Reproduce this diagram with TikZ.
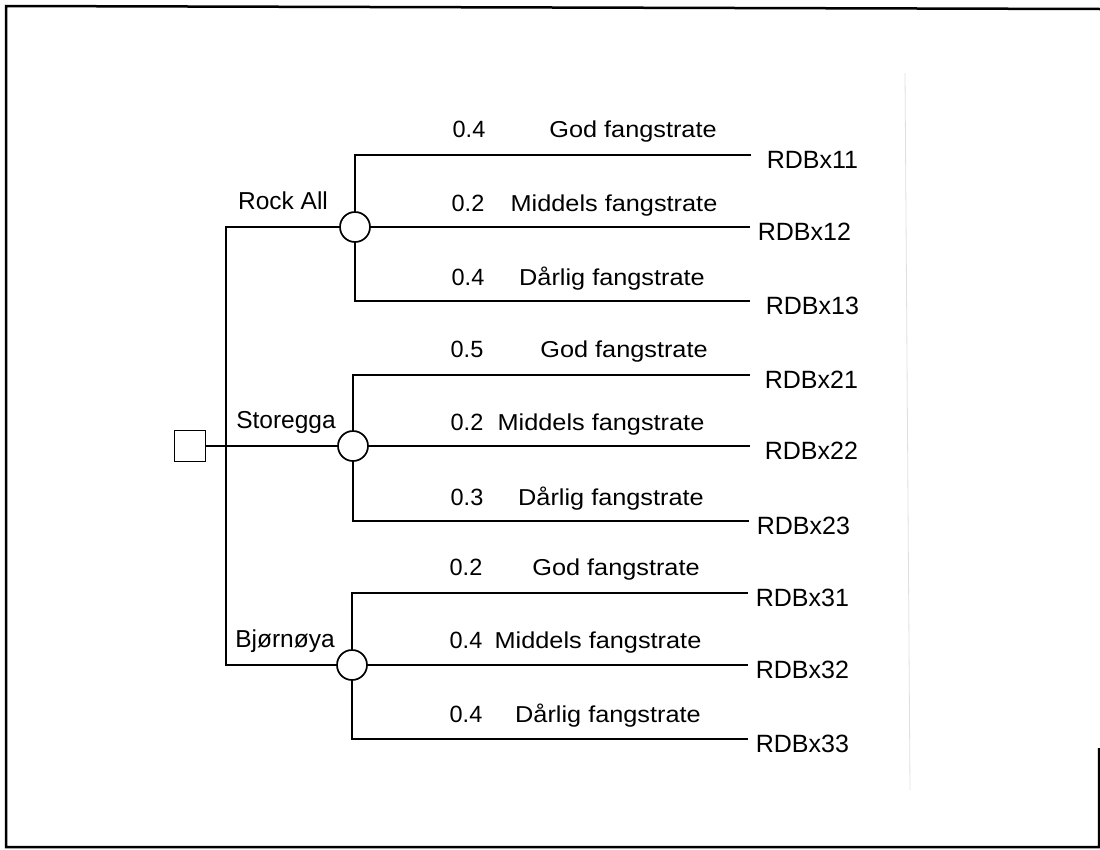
\documentclass[tikz,border=0pt]{standalone}
\usepackage{fontspec}
\setmainfont{Liberation Sans}
\newfontfamily\widefont{Liberation Sans}[FakeStretch=1.1]

\begin{document}
\begin{tikzpicture}[x=1pt, y=-1pt, line width=1.7pt,
    chance/.style={circle, draw, minimum size=30pt, inner sep=0pt},
    decision/.style={rectangle, draw, minimum size=31pt, inner sep=0pt},
    site/.style={anchor=base, inner sep=0pt, font=\fontsize{24.5}{28}\selectfont},
    prob/.style={anchor=base, inner sep=0pt, font=\fontsize{23.5}{26}\selectfont},
    rate/.style={anchor=base, inner sep=0pt, font=\widefont\fontsize{23}{26}\selectfont},
    leaf/.style={anchor=base west, inner sep=0pt, font=\fontsize{25}{28}\selectfont}]
    \useasboundingbox (0,0) rectangle (1100,849);

    % Frame
    \draw [line width=2.5pt] (1099,748) -- (1099,847) -- (6,847) -- (6,6) -- (1100,9);
    \draw [gray!25, line width=0.8pt] (905,73) -- (910,790);

    % Nodes {dec, ra, st, bj}
    \node [decision] 	(dec) 	at (190,446) 	{};
    \node [chance] 		(ra) 	at (355,227) 	{};
    \node [chance] 		(st) 	at (353,446) 	{};
    \node [chance] 		(bj) 	at (352,665) 	{};
    \coordinate 		(tt) 	at (226,227);
    \coordinate 		(tb) 	at (226,665);

    \node [site] 	(lra) 	at (283,209) 	{Rock All};
    \node [site] 	(lst) 	at (286,428) 	{Storegga};
    \node [site] 	(lbj) 	at (285,647) 	{Bjørnøya};

    % Ends of the branches
    \coordinate (e11) at (751,155);
    \coordinate (e12) at (750,227);
    \coordinate (e13) at (750,301);
    \coordinate (e21) at (750,375);
    \coordinate (e22) at (750,446);
    \coordinate (e23) at (749,521);
    \coordinate (e31) at (748,593);
    \coordinate (e32) at (748,665);
    \coordinate (e33) at (748,739);

    \node [leaf] 	(x11) 	at (766,168) 	{RDBx11};
    \node [leaf] 	(x12) 	at (757,240) 	{RDBx12};
    \node [leaf] 	(x13) 	at (765,314) 	{RDBx13};
    \node [leaf] 	(x21) 	at (764,388) 	{RDBx21};
    \node [leaf] 	(x22) 	at (764,459) 	{RDBx22};
    \node [leaf] 	(x23) 	at (756,534) 	{RDBx23};
    \node [leaf] 	(x31) 	at (755,606) 	{RDBx31};
    \node [leaf] 	(x32) 	at (755,678) 	{RDBx32};
    \node [leaf] 	(x33) 	at (755,752) 	{RDBx33};

    % Probabilities and outcomes
    \node [prob] 	(p11) 	at (469,137) 	{0.4};
    \node [rate] 	(r11) 	at (633,137) 	{God fangstrate};
    \node [prob] 	(p12) 	at (468,211) 	{0.2};
    \node [rate] 	(r12) 	at (614,211) 	{Middels fangstrate};
    \node [prob] 	(p13) 	at (468,285) 	{0.4};
    \node [rate] 	(r13) 	at (612,285) 	{Dårlig fangstrate};

    \node [prob] 	(p21) 	at (467,357) 	{0.5};
    \node [rate] 	(r21) 	at (624,357) 	{God fangstrate};
    \node [prob] 	(p22) 	at (467,430) 	{0.2};
    \node [rate] 	(r22) 	at (601,430) 	{Middels fangstrate};
    \node [prob] 	(p23) 	at (467,505) 	{0.3};
    \node [rate] 	(r23) 	at (611,505) 	{Dårlig fangstrate};

    \node [prob] 	(p31) 	at (466,575) 	{0.2};
    \node [rate] 	(r31) 	at (616,575) 	{God fangstrate};
    \node [prob] 	(p32) 	at (466,648) 	{0.4};
    \node [rate] 	(r32) 	at (598,648) 	{Middels fangstrate};
    \node [prob] 	(p33) 	at (466,722) 	{0.4};
    \node [rate] 	(r33) 	at (608,722) 	{Dårlig fangstrate};

    % Paths
    \draw (dec) -- (st);
    \draw (ra) -- (tt) -- (tb) -- (bj);

    \draw (ra) |- (e11);
    \draw (ra) -- (e12);
    \draw (ra) |- (e13);
    \draw (st) |- (e21);
    \draw (st) -- (e22);
    \draw (st) |- (e23);
    \draw (bj) |- (e31);
    \draw (bj) -- (e32);
    \draw (bj) |- (e33);
\end{tikzpicture}
\end{document}
